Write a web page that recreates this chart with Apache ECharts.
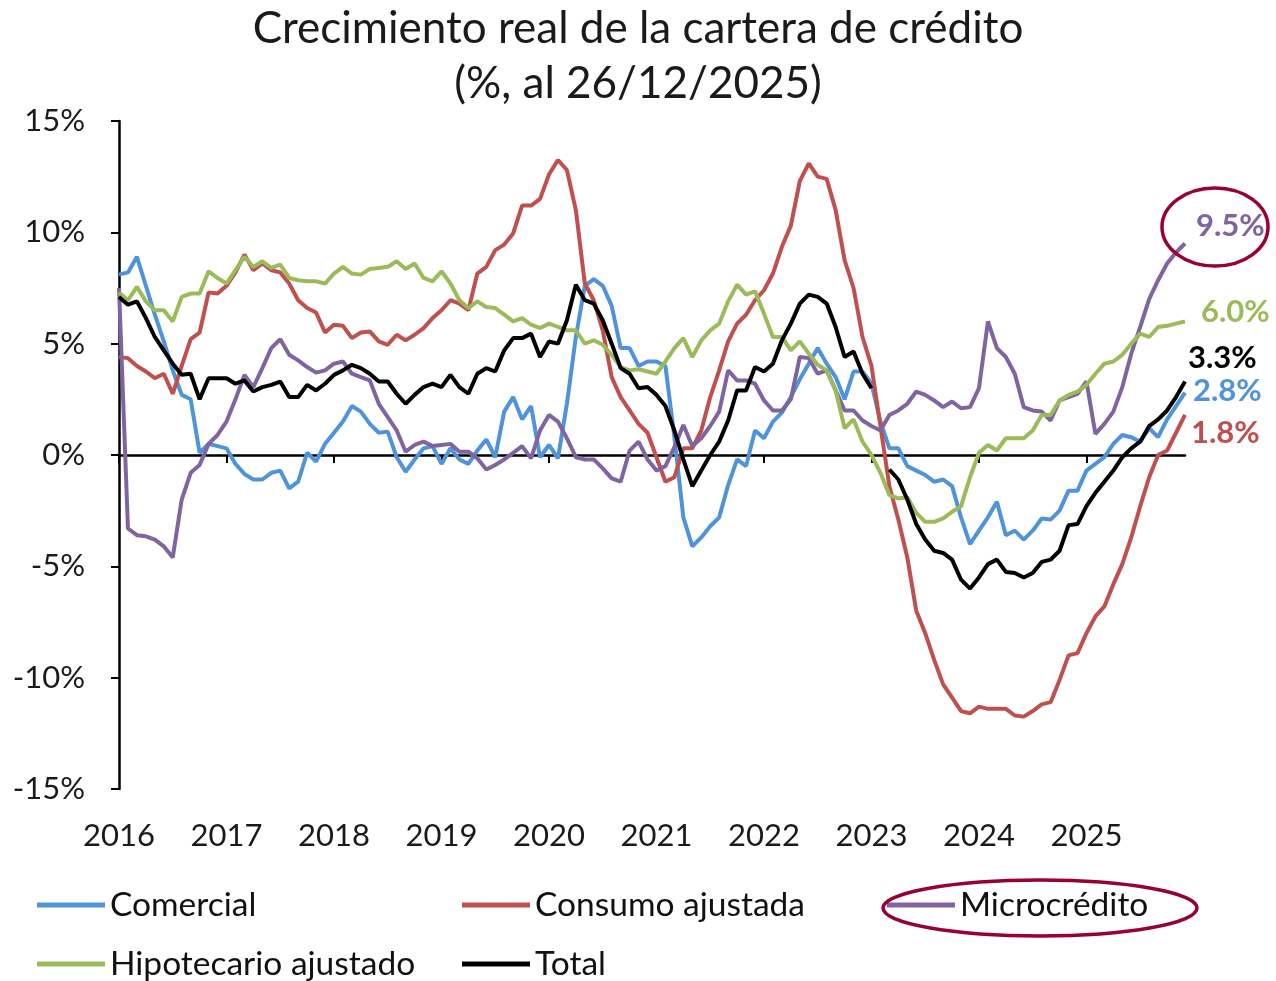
<!DOCTYPE html>
<html>
<head>
<meta charset="utf-8">
<title>Crecimiento real de la cartera de crédito</title>
<script src="https://cdn.jsdelivr.net/npm/echarts@6/dist/echarts.min.js"></script>
<style>
  html, body { margin: 0; padding: 0; background: #fff; }
  #chart { width: 1276px; height: 981px; }
</style>
</head>
<body>
<div id="chart"></div>
<script>
// monthly data, Jan 2016 .. Dec 2025
var years = [2016, 2017, 2018, 2019, 2020, 2021, 2022, 2023, 2024, 2025]
var months = []
years.forEach(function (y) {
  for (var m = 1; m <= 12; m++) months.push(y + '-' + (m < 10 ? '0' + m : m))
})

var comercial = [
  8.1, 8.2, 8.9, 7.6, 6.3, 5.1, 3.8, 2.7, 2.5, 0.1, 0.5, 0.4,
  0.3, -0.4, -0.85, -1.1, -1.1, -0.8, -0.7, -1.5, -1.2, 0.1, -0.3, 0.5,
  1.0, 1.5, 2.2, 1.95, 1.4, 1.0, 1.05, -0.1, -0.75, -0.2, 0.3, 0.4,
  -0.4, 0.3, -0.2, -0.4, 0.2, 0.7, -0.1, 1.95, 2.6, 1.6, 2.2, -0.1,
  0.45, -0.15, 2.3, 5.3, 7.6, 7.9, 7.6, 6.7, 4.8, 4.8, 4.0, 4.2,
  4.2, 4.0, 0.8, -2.8, -4.1, -3.7, -3.2, -2.8, -1.35, -0.2, -0.5, 1.1,
  0.75, 1.5, 1.9, 2.6, 3.4, 4.1, 4.8, 4.1, 3.5, 2.5, 3.75, 3.75,
  3.2, 1.5, 0.3, 0.3, -0.5, -0.7, -0.9, -1.2, -1.1, -1.4, -2.8, -4.0,
  -3.4, -2.8, -2.1, -3.6, -3.4, -3.8, -3.4, -2.85, -2.9, -2.5, -1.6, -1.6,
  -0.7, -0.4, -0.1, 0.5, 0.9, 0.8, 0.6, 1.2, 0.8, 1.6, 2.2, 2.8
]
var consumo = [
  4.4, 4.35, 4.0, 3.75, 3.45, 3.65, 2.75, 4.0, 5.2, 5.5, 7.3, 7.25,
  7.6, 8.2, 9.0, 8.3, 8.6, 8.3, 8.2, 7.7, 6.95, 6.6, 6.4, 5.5,
  5.85, 5.8, 5.25, 5.5, 5.55, 5.1, 4.95, 5.4, 5.15, 5.4, 5.7, 6.15,
  6.5, 6.95, 6.8, 6.5, 8.15, 8.45, 9.2, 9.45, 9.95, 11.2, 11.2, 11.5,
  12.6, 13.25, 12.8, 11.0, 7.7, 6.95, 5.6, 3.5, 2.6, 2.0, 1.4, 1.0,
  -0.1, -1.2, -1.0, 0.3, 0.3, 1.1, 2.6, 3.8, 5.1, 5.9, 6.3, 6.95,
  7.4, 8.15, 9.35, 10.3, 12.3, 13.1, 12.5, 12.4, 11.0, 8.75, 7.5, 5.3,
  4.0, 1.3, -1.4, -2.9, -4.6, -7.0, -8.0, -9.2, -10.3, -10.9, -11.5, -11.6,
  -11.3, -11.4, -11.4, -11.4, -11.7, -11.75, -11.5, -11.2, -11.1, -10.1, -9.0, -8.9,
  -8.0, -7.25, -6.8, -5.8, -4.9, -3.7, -2.3, -1.0, 0.0, 0.2, 1.0, 1.8
]
var microcredito = [
  7.5, -3.3, -3.6, -3.65, -3.8, -4.1, -4.6, -2.0, -0.8, -0.45, 0.5, 0.9,
  1.5, 2.5, 3.6, 3.05, 3.9, 4.8, 5.2, 4.5, 4.25, 3.95, 3.7, 3.8,
  4.1, 4.2, 3.65, 3.5, 3.35, 2.3, 1.7, 1.1, 0.15, 0.45, 0.6, 0.4,
  0.45, 0.5, 0.15, 0.15, -0.15, -0.65, -0.45, -0.2, 0.1, 0.4, -0.15, 1.1,
  1.8, 1.5, 0.75, -0.1, -0.2, -0.2, -0.6, -1.05, -1.2, 0.2, 0.6, -0.2,
  -0.7, -0.5, 0.35, 1.35, 0.4, 0.75, 1.3, 1.95, 3.8, 3.35, 3.35, 3.2,
  2.45, 2.0, 2.0, 2.5, 4.4, 4.35, 3.65, 3.8, 2.9, 2.0, 2.0, 1.55,
  1.3, 1.1, 1.8, 2.0, 2.3, 2.85, 2.7, 2.45, 2.15, 2.4, 2.1, 2.15,
  3.0, 6.0, 4.8, 4.4, 3.65, 2.15, 2.0, 1.95, 1.55, 2.45, 2.6, 2.75,
  3.3, 0.95, 1.4, 1.95, 3.05, 4.55, 5.75, 7.0, 7.85, 8.6, 9.1, 9.5
]
var hipotecario = [
  7.3, 6.95, 7.55, 6.9, 6.5, 6.5, 6.0, 7.1, 7.25, 7.25, 8.25, 7.95,
  7.7, 8.3, 8.9, 8.45, 8.7, 8.4, 8.55, 7.95, 7.85, 7.8, 7.8, 7.7,
  8.15, 8.45, 8.15, 8.1, 8.35, 8.4, 8.45, 8.7, 8.35, 8.6, 7.95, 7.8,
  8.25, 7.7, 6.95, 6.6, 6.9, 6.65, 6.6, 6.3, 6.0, 6.15, 5.85, 5.7,
  5.9, 5.75, 5.6, 5.6, 5.0, 5.15, 4.95, 4.5, 3.95, 3.8, 3.85, 3.75,
  3.65, 4.2, 4.8, 5.25, 4.4, 5.15, 5.6, 5.9, 6.9, 7.65, 7.2, 7.35,
  6.35, 5.3, 5.3, 4.7, 5.1, 4.55, 4.05, 3.8, 2.9, 1.2, 1.6, 0.6,
  0.0, -0.8, -1.8, -1.95, -1.9, -2.6, -3.0, -3.0, -2.85, -2.55, -2.3, -1.0,
  0.1, 0.45, 0.2, 0.75, 0.75, 0.75, 1.1, 1.8, 1.8, 2.45, 2.7, 2.85,
  3.15, 3.65, 4.1, 4.2, 4.5, 5.0, 5.45, 5.3, 5.75, 5.8, 5.9, 6.0
]
var total = [
  7.1, 6.75, 6.9, 6.15, 5.3, 4.7, 4.1, 3.6, 3.65, 2.5, 3.45, 3.45,
  3.45, 3.2, 3.35, 2.85, 3.05, 3.15, 3.3, 2.6, 2.6, 3.15, 2.9, 3.2,
  3.6, 3.8, 4.05, 3.9, 3.65, 3.3, 3.3, 2.75, 2.3, 2.7, 3.05, 3.2,
  3.05, 3.6, 3.05, 2.75, 3.65, 3.9, 3.75, 4.7, 5.25, 5.25, 5.45, 4.4,
  5.1, 5.0, 6.05, 7.65, 6.95, 6.8, 6.05, 5.0, 3.9, 3.65, 3.0, 3.05,
  2.7, 2.2, 1.1, -0.2, -1.4, -0.7, 0.0, 0.6, 1.55, 2.9, 2.9, 3.95,
  3.75, 4.1, 5.15, 5.9, 6.8, 7.2, 7.1, 6.8, 5.75, 4.4, 4.65, 3.65,
  3.0, null, -0.65, -1.1, -2.0, -3.1, -3.8, -4.3, -4.4, -4.7, -5.6, -6.0,
  -5.5, -4.9, -4.7, -5.25, -5.3, -5.5, -5.3, -4.8, -4.7, -4.3, -3.15, -3.1,
  -2.3, -1.7, -1.2, -0.7, -0.1, 0.3, 0.6, 1.3, 1.6, 2.0, 2.6, 3.3
]

var yTicks = [-15, -10, -5, 0, 5, 10, 15]

var FONT = 'Lato'
var BLUE = '#4f93dc'
var RED = '#c0504d'
var PURPLE = '#8064a2'
var GREEN = '#9bbb59'
var BLACK = '#000000'
var MARK = '#990033'

function isYearStart (idx) {
  return idx % 12 === 0
}

function mkSeries (name, data, color, labelColor, offset) {
  return {
    name: name,
    type: 'line',
    data: data,
    symbol: 'none',
    connectNulls: false,
    lineStyle: { color: color, width: 4 },
    itemStyle: { color: color },
    emphasis: { disabled: true },
    endLabel: {
      show: true,
      offset: offset,
      formatter: function (p) { return p.value.toFixed(1) + '%' },
      color: labelColor,
      fontFamily: FONT,
      fontWeight: 'bold',
      fontSize: 31
    }
  }
}

function mkLegend (name, left, top) {
  return {
    data: [name],
    left: left,
    top: top,
    padding: 0,
    icon: 'rect',
    itemWidth: 68,
    itemHeight: 5,
    textStyle: { fontFamily: FONT, fontSize: 33.5, color: '#111' }
  }
}

var chart = echarts.init(document.getElementById('chart'))
chart.setOption({
  animation: false,
  backgroundColor: '#fff',
  title: {
    text: 'Crecimiento real de la cartera de crédito\n(%, al 26/12/2025)',
    left: 'center',
    top: -4,
    textStyle: {
      fontFamily: FONT,
      fontWeight: 'normal',
      fontSize: 44,
      lineHeight: 55,
      color: '#1a1a1a'
    }
  },
  grid: { left: 119, right: 91, top: 121, bottom: 192 },
  legend: [
    mkLegend('Comercial', 37, 888),
    mkLegend('Consumo ajustada', 462, 888),
    mkLegend('Microcrédito', 887, 888),
    mkLegend('Hipotecario ajustado', 37, 947),
    mkLegend('Total', 462, 947)
  ],
  xAxis: [
    {
      type: 'category',
      data: months,
      boundaryGap: false,
      axisLine: { onZero: true, lineStyle: { color: '#000', width: 2.5 } },
      axisTick: { show: true, interval: isYearStart, length: 8, lineStyle: { color: '#000', width: 2 } },
      axisLabel: { show: false },
      splitLine: { show: false }
    },
    {
      type: 'category',
      data: months,
      boundaryGap: false,
      position: 'bottom',
      axisLine: { show: false, onZero: false },
      axisTick: { show: false },
      axisLabel: {
        interval: isYearStart,
        formatter: function (v) { return v.slice(0, 4) },
        margin: 31,
        fontFamily: FONT,
        fontSize: 31,
        color: '#1a1a1a'
      },
      splitLine: { show: false }
    }
  ],
  yAxis: {
    type: 'value',
    min: yTicks[0],
    max: yTicks[yTicks.length - 1],
    interval: 5,
    axisLine: { show: true, lineStyle: { color: '#000', width: 2.5 } },
    axisTick: { show: true, length: 8, lineStyle: { color: '#000', width: 2 } },
    axisLabel: {
      formatter: '{value}%',
      margin: 34,
      fontFamily: FONT,
      fontSize: 31,
      color: '#1a1a1a'
    },
    splitLine: { show: false }
  },
  series: [
    mkSeries('Comercial', comercial, BLUE, BLUE, [0, -2]),
    mkSeries('Consumo ajustada', consumo, RED, RED, [-2, 18]),
    mkSeries('Microcrédito', microcredito, PURPLE, PURPLE, [3, -17]),
    mkSeries('Hipotecario ajustado', hipotecario, GREEN, GREEN, [8, -9]),
    mkSeries('Total', total, BLACK, BLACK, [-5, -24])
  ],
  graphic: [
    {
      type: 'ellipse',
      shape: { cx: 1215, cy: 227, rx: 53, ry: 39 },
      style: { fill: null, stroke: MARK, lineWidth: 3.5 },
      z: 100
    },
    {
      type: 'ellipse',
      shape: { cx: 1040, cy: 908, rx: 157, ry: 28 },
      style: { fill: null, stroke: MARK, lineWidth: 3.5 },
      z: 100
    }
  ]
})
</script>
</body>
</html>
